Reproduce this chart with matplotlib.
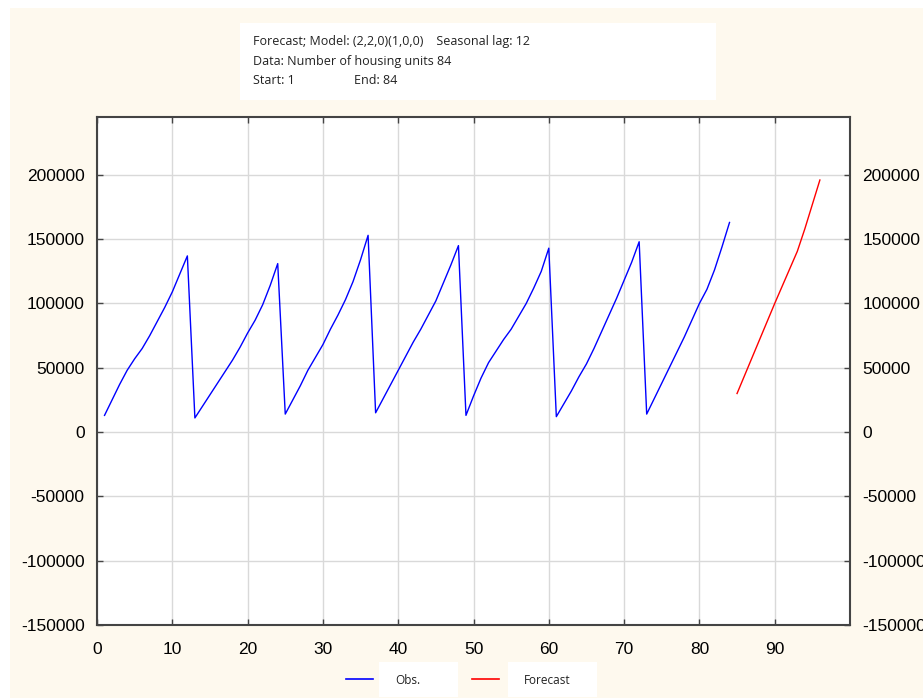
import numpy as np
import matplotlib.pyplot as plt
from matplotlib.patches import Rectangle
from matplotlib.lines import Line2D

plt.rcParams['axes.unicode_minus'] = False

# observed housing units, t = 1..84
obs = [13000, 25000, 37000, 48000, 57000, 65000, 75000, 86000, 97000, 109000, 123000, 137000,
       11000, 20000, 29000, 38000, 47000, 56000, 66000, 77000, 87000, 99000, 114000, 131000,
       14000, 25000, 36000, 48000, 58000, 68000, 80000, 91000, 103000, 117000, 134000, 153000,
       15000, 26000, 37000, 48000, 59000, 70000, 80000, 91000, 102000, 116000, 130000, 145000,
       13000, 28000, 42000, 54000, 63000, 72000, 80000, 90000, 100000, 112000, 125000, 143000,
       12000, 22000, 32000, 43000, 53000, 65000, 78000, 91000, 104000, 118000, 132000, 148000,
       14000, 26000, 38000, 50000, 62000, 74000, 87000, 100000, 111000, 126000, 144000, 163000]
# forecast, t = 85..96
forecast = [30000, 44000, 58000, 72000, 86000, 100000, 113500, 127000, 140500, 158000, 177000, 196000]

obs_t = np.arange(1, len(obs) + 1)
fc_t = np.arange(len(obs) + 1, len(obs) + len(forecast) + 1)

xticks = [0, 10, 20, 30, 40, 50, 60, 70, 80, 90]
yticks = [-150000, -100000, -50000, 0, 50000, 100000, 150000, 200000]

bg = '#FEF9EE'
tick_font = ['Liberation Sans Narrow', 'Liberation Sans', 'DejaVu Sans']
box_font = ['Open Sans', 'DejaVu Sans']

fig = plt.figure(figsize=(9.23, 6.98), dpi=100, facecolor='white')
# cream background with thin white margin
fig.patches.append(Rectangle((10 / 923, 0), 1, 1 - 8 / 698, transform=fig.transFigure,
                             facecolor=bg, edgecolor='none', zorder=-10))

ax = fig.add_axes([97 / 923, 1 - 625 / 698, (850 - 97) / 923, (625 - 117) / 698])
ax.set_facecolor('white')

l_obs, = ax.plot(obs_t, obs, color='#0000FF', lw=1.0)
l_fc, = ax.plot(fc_t, forecast, color='#FF0000', lw=1.0)

ax.set_xlim(0, 100)
ax.set_ylim(-150000, 245000)
ax.set_xticks(xticks)
ax.set_yticks(yticks)
ax.grid(True, color='#D9D9D9', lw=1.0)
ax.set_axisbelow(True)

ax.tick_params(direction='in', length=4, width=1, color='#444444',
               top=True, right=True, labelright=True, labelsize=12.5)
ax.tick_params(axis='x', pad=12)
ax.tick_params(axis='y', pad=9)
for lab in ax.get_xticklabels() + ax.get_yticklabels():
    lab.set_family(tick_font)
for t in ax.yaxis.get_major_ticks():
    t.label2.set_family(tick_font)
for s in ax.spines.values():
    s.set_color('#444444')
    s.set_linewidth(1.5)

# header box
fig.patches.append(Rectangle((240 / 923, 1 - 100 / 698), (716 - 240) / 923, 77 / 698,
                             transform=fig.transFigure, facecolor='white', edgecolor='none'))
hdr = dict(fontsize=9, family=box_font, va='center', color='#222222')
fig.text(253 / 923, 1 - 42 / 698, 'Forecast; Model: (2,2,0)(1,0,0)    Seasonal lag: 12', **hdr)
fig.text(253 / 923, 1 - 61 / 698, 'Data: Number of housing units 84', **hdr)
fig.text(253 / 923, 1 - 80 / 698, 'Start: 1', **hdr)
fig.text(354 / 923, 1 - 80 / 698, 'End: 84', **hdr)

# legend
for (x0, x1, bx0, bx1, line, name) in [(346, 373, 379, 458, l_obs, 'Obs.'),
                                       (472, 499, 508, 597, l_fc, 'Forecast')]:
    fig.patches.append(Rectangle((bx0 / 923, 1 - 697 / 698), (bx1 - bx0) / 923, 35 / 698,
                                 transform=fig.transFigure, facecolor='white', edgecolor='none'))
    fig.lines.append(Line2D([x0 / 923, x1 / 923], [1 - 679 / 698] * 2, transform=fig.transFigure,
                            color=line.get_color(), lw=1.2))
    fig.text((bx0 + 16) / 923, 1 - 680 / 698, name, fontsize=8.5, family=box_font,
             va='center', color='#222222')

fig.savefig('out.png', dpi=100, facecolor=fig.get_facecolor())
